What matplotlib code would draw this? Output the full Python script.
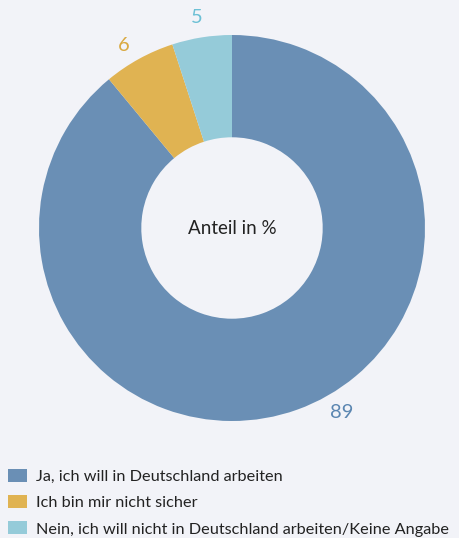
import matplotlib.pyplot as plt
from matplotlib.patches import Patch

# data
labels = ["Ja, ich will in Deutschland arbeiten",
          "Ich bin mir nicht sicher",
          "Nein, ich will nicht in Deutschland arbeiten/Keine Angabe"]
values = [89, 6, 5]
colors = ["#6a8fb5", "#e0b352", "#95cbd9"]
text_colors = ["#5b86b1", "#d9a942", "#6cc0d5"]

bg = "#f2f3f8"
plt.rcParams['font.family'] = ['Lato', 'DejaVu Sans']

fig = plt.figure(figsize=(4.6, 5.38), dpi=100)
fig.patch.set_facecolor(bg)

ax = fig.add_axes([39 / 460, 117 / 538, 386 / 460, 386 / 538])
ax.set_facecolor(bg)
wedges, _ = ax.pie(values, colors=colors, startangle=90, counterclock=False,
                   radius=1, wedgeprops=dict(width=0.53, linewidth=0))
ax.set_xlim(-1, 1)
ax.set_ylim(-1, 1)
ax.axis("off")

ax.text(0, 0, "Anteil in %", ha="center", va="center", fontsize=13.5, color="#222222")

# value labels
label_pos = [(0.57, -0.955), (-0.56, 0.945), (-0.18, 1.09)]
for v, (x, y), c in zip(values, label_pos, text_colors):
    ax.text(x, y, str(v), ha="center", va="center", fontsize=14.5, color=c,
            clip_on=False)

handles = [Patch(facecolor=c, edgecolor="none") for c in colors]
fig.legend(handles, labels, loc="upper left", bbox_to_anchor=(0.004, 0.14),
           frameon=False, fontsize=11.7, handlelength=1.15, handleheight=0.85,
           handletextpad=0.55, labelspacing=0.68, borderaxespad=0,
           labelcolor="#222222")

fig.savefig("out.png", dpi=100, facecolor=bg)
